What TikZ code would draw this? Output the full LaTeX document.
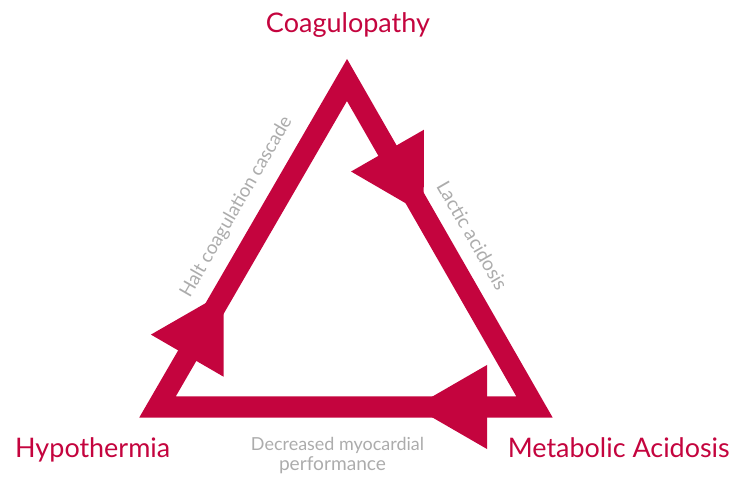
\documentclass[tikz,border=0pt]{standalone}
\usepackage{fontspec}
\setmainfont{Lato}
\usetikzlibrary{decorations.markings}
\definecolor{crim}{RGB}{196,4,62}
\definecolor{lgray}{RGB}{172,172,172}
\tikzset{
  side/.style={draw=crim,line width=21pt,line join=miter},
  arrowhead/.style={decorate,decoration={markings,
      mark=at position #1 with {\fill[crim] (72.7pt,0pt) -- (0pt,42pt) -- (0pt,-42pt) -- cycle;}}},
  title/.style={text=crim,inner sep=0pt,anchor=base},
  note/.style={text=lgray,inner sep=0pt}
}
\begin{document}
\begin{tikzpicture}[x=1pt,y=-1pt]
\useasboundingbox (0,0) rectangle (734,478);
\coordinate (A) at (347,80);
\coordinate (B) at (157.5,407);
\coordinate (C) at (534.5,407);
\draw[side] (A) -- (C) -- (B) -- cycle;
\path[arrowhead=0.216] (A) -- (C);
\path[arrowhead=0.126] (C) -- (B);
\path[arrowhead=0.157] (B) -- (A);
\node[title] (coag) at (348,32.7) {\resizebox{164pt}{!}{Coagulopathy}};
\node[title,anchor=base west] (hypo) at (15,457) {\resizebox{155pt}{!}{Hypothermia}};
\node[title,anchor=base east] (meta) at (730,457) {\resizebox{222pt}{!}{Metabolic Acidosis}};
\node[note,anchor=base] (dec1) at (337.5,450) {\resizebox{173pt}{!}{Decreased myocardial}};
\node[note,anchor=base] (dec2) at (332.5,470) {\resizebox{107pt}{!}{performance}};
\node[note,rotate=60] (halt) at (236.5,207) {\resizebox{205pt}{!}{Halt coagulation cascade}};
\node[note,rotate=-60] (lact) at (472.5,235.5) {\resizebox{122pt}{!}{Lactic acidosis}};
\end{tikzpicture}
\end{document}
